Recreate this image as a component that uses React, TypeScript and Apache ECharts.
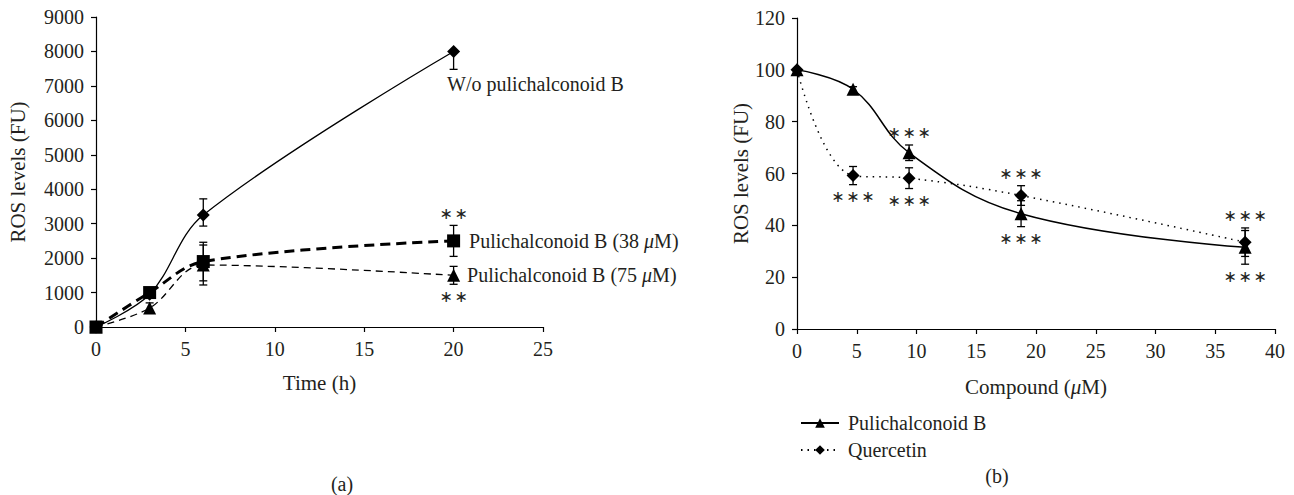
import React, { useEffect, useRef } from 'react';
import * as echarts from 'echarts';

// ---------- Panel (a) data ----------
const timeH = [0, 3, 6, 20];
const woValues = [0, 950, 3250, 8000];
const woErrPlus = [0, 0, 470, 0];
const woErrMinus = [0, 0, 320, 520];
const p38Values = [0, 1000, 1900, 2500];
const p38Err = [0, 0, 560, 450];
const p75Values = [0, 550, 1800, 1500];
const p75Err = [0, 150, 580, 260];
const p38Stars = ['', '', '', 'above'];
const p75Stars = ['', '', '', 'below'];
const timeTicks = { min: 0, max: 25, interval: 5 };
const rosTicksA = { min: 0, max: 9000, interval: 1000 };

// ---------- Panel (b) data ----------
const concUM = [0, 4.69, 9.38, 18.75, 37.5];
const pulBValues = [100, 92.5, 68, 44.5, 31.5];
const pulBErr = [0, 1, 3, 5, 6.5];
const querValues = [100, 59.2, 58.2, 51.5, 33.5];
const querErr = [0, 3.5, 4, 3.8, 5.5];
const pulBStars = ['', '', 'above', 'below', 'below'];
const querStars = ['', 'below', 'below', 'above', 'above'];
const concTicks = { min: 0, max: 40, interval: 5 };
const rosTicksB = { min: 0, max: 120, interval: 20 };

const FONT = '"Liberation Serif", "Times New Roman", serif';
const INK = '#231f20';

function errData(xs: number[], vs: number[], plus: number[], minus: number[]) {
  const out: number[][] = [];
  xs.forEach((x, i) => {
    if (plus[i] > 0 || minus[i] > 0) out.push([x, vs[i] - minus[i], vs[i] + plus[i], vs[i]]);
  });
  return out;
}

function starData(xs: number[], vs: number[], plus: number[], minus: number[], where: string[]) {
  const out: number[][] = [];
  xs.forEach((x, i) => {
    if (where[i] === 'above') out.push([x, vs[i] + plus[i], -1]);
    if (where[i] === 'below') out.push([x, vs[i] - minus[i], 1]);
  });
  return out;
}

function errRender(params: any, api: any) {
  const x = api.value(0);
  const lo = api.value(1);
  const hi = api.value(2);
  const v = api.value(3);
  const pLo = api.coord([x, lo]);
  const pHi = api.coord([x, hi]);
  const w = 4;
  const style = { stroke: '#000', lineWidth: 1.3 };
  const children: any[] = [
    { type: 'line', shape: { x1: pLo[0], y1: pLo[1], x2: pHi[0], y2: pHi[1] }, style },
  ];
  if (lo < v) children.push({ type: 'line', shape: { x1: pLo[0] - w, y1: pLo[1], x2: pLo[0] + w, y2: pLo[1] }, style });
  if (hi > v) children.push({ type: 'line', shape: { x1: pHi[0] - w, y1: pHi[1], x2: pHi[0] + w, y2: pHi[1] }, style });
  return { type: 'group', children };
}

function starRender(text: string) {
  return (params: any, api: any) => {
    const x = api.value(0);
    const y = api.value(1);
    const dir = api.value(2);
    const p = api.coord([x, y]);
    return {
      type: 'text',
      x: p[0],
      y: p[1] + dir * 12,
      style: {
        text,
        fill: INK,
        font: `16px "DejaVu Sans", ${FONT}`,
        align: 'center',
        verticalAlign: 'middle',
      },
    };
  };
}

function lineData(xs: number[], vs: number[], lastLabel?: any) {
  return xs.map((x, i) => {
    if (lastLabel && i === xs.length - 1) return { value: [x, vs[i]], label: lastLabel };
    return [x, vs[i]];
  });
}

const richMu = {
  i: { fontStyle: 'italic', fontSize: 20, fontFamily: FONT, color: INK },
};

export default function App() {
  const ref = useRef<HTMLDivElement>(null);
  useEffect(() => {
    if (!ref.current) return;
    const chart = echarts.init(ref.current, undefined, { renderer: 'svg' });
    const axisCommon = {
      axisLine: { show: true, lineStyle: { color: '#000', width: 1.2 } },
      axisTick: { show: true, inside: false, length: 5, lineStyle: { color: '#000', width: 1.2 } },
      splitLine: { show: false },
      axisLabel: {
        color: INK, fontFamily: FONT, fontSize: 20, margin: 12,
        formatter: (v: number) => String(v),
      },
      nameTextStyle: { color: INK, fontFamily: FONT, fontSize: 21, rich: { i: { ...richMu.i, fontSize: 21 } } },
    };
    const labelStyle = { color: INK, fontFamily: FONT, fontSize: 20, rich: richMu };
    chart.setOption({
      animation: false,
      backgroundColor: '#fff',
      grid: [
        { left: 96, top: 17, width: 447, height: 310 },
        { left: 797, top: 18, width: 478, height: 311 },
      ],
      xAxis: [
        {
          ...axisCommon, type: 'value', gridIndex: 0, ...timeTicks,
          name: 'Time (h)', nameLocation: 'middle', nameGap: 45,
        },
        {
          ...axisCommon, type: 'value', gridIndex: 1, ...concTicks,
          name: 'Compound ({i|μ}M)', nameLocation: 'middle', nameGap: 47,
        },
      ],
      yAxis: [
        {
          ...axisCommon, type: 'value', gridIndex: 0, ...rosTicksA,
          name: 'ROS levels (FU)', nameLocation: 'middle', nameGap: 68,
        },
        {
          ...axisCommon, type: 'value', gridIndex: 1, ...rosTicksB,
          name: 'ROS levels (FU)', nameLocation: 'middle', nameGap: 45,
        },
      ],
      legend: {
        data: ['Pulichalconoid B', 'Quercetin'],
        orient: 'vertical',
        left: 795,
        top: 408,
        itemWidth: 38,
        itemHeight: 12,
        itemGap: 7,
        textStyle: { color: INK, fontFamily: FONT, fontSize: 20, padding: [0, 0, 0, 4] },
      },
      graphic: [
        { type: 'text', x: 342, y: 484, style: { text: '(a)', fill: INK, font: `20px ${FONT}`, align: 'center', verticalAlign: 'middle' } },
        { type: 'text', x: 997, y: 476, style: { text: '(b)', fill: INK, font: `20px ${FONT}`, align: 'center', verticalAlign: 'middle' } },
      ],
      series: [
        // ---- panel (a) ----
        {
          type: 'custom', xAxisIndex: 0, yAxisIndex: 0, z: 1, renderItem: errRender,
          data: [
            ...errData(timeH, woValues, woErrPlus, woErrMinus),
            ...errData(timeH, p38Values, p38Err, p38Err),
            ...errData(timeH, p75Values, p75Err, p75Err),
          ],
        },
        {
          name: 'W/o pulichalconoid B', type: 'line', xAxisIndex: 0, yAxisIndex: 0, z: 3,
          smooth: 0.35, symbol: 'diamond', symbolSize: 13,
          itemStyle: { color: '#000' }, lineStyle: { color: '#000', width: 1.3 },
          data: lineData(timeH, woValues, {
            show: true, position: [0, 39], align: 'left', verticalAlign: 'middle',
            formatter: 'W/o pulichalconoid B', ...labelStyle,
          }),
        },
        {
          name: 'Pulichalconoid B (75 μM)', type: 'line', xAxisIndex: 0, yAxisIndex: 0, z: 3,
          smooth: 0.35, symbol: 'triangle', symbolSize: 13,
          itemStyle: { color: '#000' }, lineStyle: { color: '#000', width: 1.3, type: [7, 5] },
          data: lineData(timeH, p75Values, {
            show: true, position: 'right', distance: 7,
            formatter: 'Pulichalconoid B (75 {i|μ}M)', ...labelStyle,
          }),
        },
        {
          name: 'Pulichalconoid B (38 μM)', type: 'line', xAxisIndex: 0, yAxisIndex: 0, z: 4,
          smooth: 0.35, symbol: 'rect', symbolSize: 13,
          itemStyle: { color: '#000' }, lineStyle: { color: '#000', width: 3, type: [10, 6] },
          data: lineData(timeH, p38Values, {
            show: true, position: 'right', distance: 9,
            formatter: 'Pulichalconoid B (38 {i|μ}M)', ...labelStyle,
          }),
        },
        {
          type: 'custom', xAxisIndex: 0, yAxisIndex: 0, z: 5, renderItem: starRender('∗\u200a∗'),
          data: [
            ...starData(timeH, p38Values, p38Err, p38Err, p38Stars),
            ...starData(timeH, p75Values, p75Err, p75Err, p75Stars),
          ],
        },
        // ---- panel (b) ----
        {
          type: 'custom', xAxisIndex: 1, yAxisIndex: 1, z: 1, renderItem: errRender,
          data: [
            ...errData(concUM, pulBValues, pulBErr, pulBErr),
            ...errData(concUM, querValues, querErr, querErr),
          ],
        },
        {
          name: 'Quercetin', type: 'line', xAxisIndex: 1, yAxisIndex: 1, z: 3,
          smooth: 0.4, symbol: 'diamond', symbolSize: 13,
          itemStyle: { color: '#000' }, lineStyle: { color: '#000', width: 1.5, type: [1.5, 5] },
          data: lineData(concUM, querValues),
        },
        {
          name: 'Pulichalconoid B', type: 'line', xAxisIndex: 1, yAxisIndex: 1, z: 4,
          smooth: 0.4, symbol: 'triangle', symbolSize: 13,
          itemStyle: { color: '#000' }, lineStyle: { color: '#000', width: 1.5 },
          data: lineData(concUM, pulBValues),
        },
        {
          type: 'custom', xAxisIndex: 1, yAxisIndex: 1, z: 5, renderItem: starRender('∗\u200a∗\u200a∗'),
          data: [
            ...starData(concUM, pulBValues, pulBErr, pulBErr, pulBStars),
            ...starData(concUM, querValues, querErr, querErr, querStars),
          ],
        },
      ],
    });
    return () => chart.dispose();
  }, []);
  return (
    <div
      ref={ref}
      style={{ position: 'fixed', left: 0, top: 0, width: 1294, height: 495, background: '#fff' }}
    />
  );
}
